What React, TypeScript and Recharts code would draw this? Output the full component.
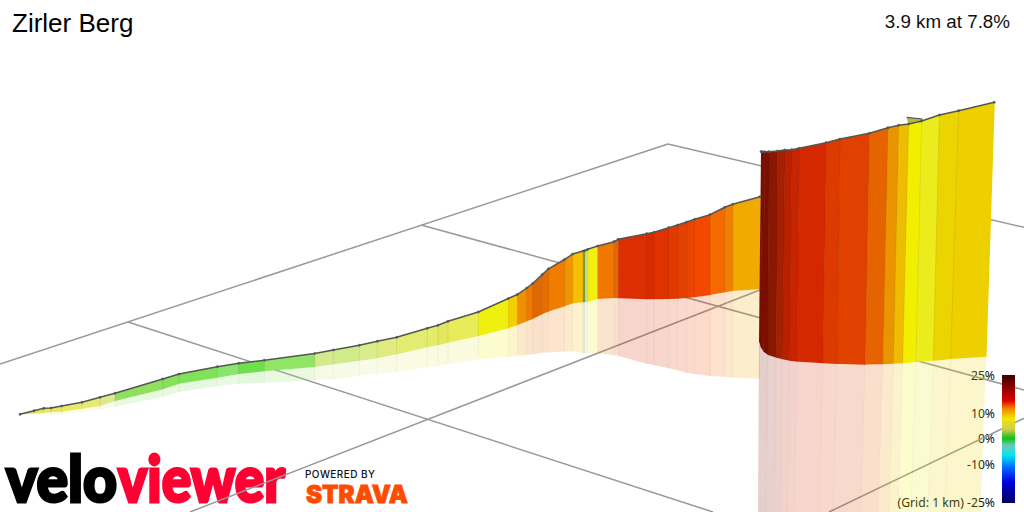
import { Area, ComposedChart, Line, XAxis, YAxis } from 'recharts'

const W = 1024
const H = 512

// far part of the climb, one entry per station along the road
const farX = [20, 34, 43.7, 51, 61.7, 82, 100, 115, 162.7, 179, 217.3, 238.7, 264.3, 314.7, 333.3, 359.3, 377.3, 396.7, 427.3, 438, 448, 478.3, 508.3, 517.3, 526.7, 532.7, 542.3, 548.5, 564.5, 572.7, 583, 585, 587.7, 597.7, 614, 618.3, 646.7, 654, 668.7, 677.7, 686.7, 694.7, 710, 724.7, 732.7, 760]
const farTop = [414.3, 410.7, 408.3, 408, 406, 402.3, 397.3, 393.3, 379, 374, 366.7, 363.3, 360.3, 353.5, 350, 345.3, 341.3, 337.3, 328.3, 325.3, 321.3, 312, 298.5, 294.5, 288, 283.5, 274.5, 268.8, 259.5, 254, 251, 250.5, 249.3, 246, 241.7, 239.3, 233.7, 232.3, 227.7, 225, 222, 219.3, 214.7, 207.3, 204.3, 196.7]
const farBase = [414.3, 413.5, 412.7, 412.3, 411.7, 408.7, 406, 401, 389.3, 383.7, 377.7, 374, 371.3, 367, 364.3, 360.7, 358.3, 354.3, 347.3, 345.3, 342.7, 336, 328.2, 325, 321.3, 319, 314, 311.5, 306.3, 303.3, 302.3, 302.3, 301.7, 299, 298, 298.3, 299.3, 299.3, 299, 298.7, 298, 297.3, 295, 292.3, 291, 289]
const farShadow = [414.3, 414.3, 414.3, 414.3, 414.3, 411.7, 409.3, 406.7, 397, 392, 386.3, 383.7, 382.7, 380, 379.3, 375.7, 374, 371.7, 367.3, 366, 364, 359.3, 357, 355.5, 354.9, 354.2, 352.8, 352.4, 351.6, 351.3, 353.3, 353.3, 353.3, 353, 355.3, 355.7, 363.7, 365, 368.3, 370.3, 372.7, 374, 376, 376.7, 377.7, 378.7]
const farColors = ['#e4dc58', '#e6e45c', '#e6e660', '#e8e860', '#e8ea68', '#e6ea70', '#dcea8c', '#90e060', '#86e258', '#80e258', '#8ae470', '#6ee04c', '#90e664', '#d4ea8c', '#cfec88', '#daec8c', '#e0ec80', '#e2ec70', '#e4ec68', '#e4e860', '#e8ec58', '#f0f010', '#f4d000', '#f09000', '#ee7a00', '#e06800', '#e86e00', '#f07c00', '#f09400', '#f4c000', '#7da03c', '#cfdc90', '#f2f010', '#f07800', '#e86800', '#dc2e00', '#d82c00', '#e03200', '#e03a00', '#e44000', '#ea4400', '#f44800', '#f46a00', '#f08000', '#f0aa00']

// near part, the wall leans a little so top and base have their own x
const nearTopX = [761, 762, 764.5, 768.7, 777.3, 784.7, 791.7, 799, 826, 840, 869.3, 888, 898.7, 908.7, 921.7, 939.3, 958.7, 994.3]
const nearTopY = [151.7, 151.7, 151.7, 151.7, 151, 150, 149.7, 148.3, 142.7, 139, 133.3, 127.7, 125.3, 124, 121, 115, 110.7, 102.3]
const nearBaseX = [759, 760.5, 763.3, 767.7, 776, 782.3, 789.3, 796.7, 822.7, 836.7, 865, 882.7, 893.3, 902.7, 916, 933.3, 950.7, 986]
const nearBaseY = [341.7, 347, 351.7, 355, 357.7, 359.3, 360.7, 361.7, 363.3, 364, 364.7, 364.3, 363.7, 363.3, 362, 360.7, 359, 356.7]
const nearShadowX = [758, 759, 762, 766, 774.5, 780.5, 787, 794, 819.5, 833, 861, 878, 889, 898, 911, 928, 945, 980.5]
const nearColors = ['#7a0f00', '#7a0f00', '#7a0f00', '#881800', '#a52000', '#b82000', '#c82400', '#d62800', '#dd3a00', '#e04000', '#e66400', '#ea9400', '#eebc00', '#f2ee00', '#ecec1c', '#ecd400', '#eed000']

// small switchback sticking out of the top edge
const kinkX = [906.7, 922.3, 920, 908.3]
const kinkY = [117.3, 119, 122.5, 125]

// 1 km ground grid: x0, y0, x1, y1
const gridLines = [
  [0, 364, 668, 144],
  [668, 144, 1024, 227.3],
  [421, 225, 1024, 390],
  [128, 322, 713, 512],
  [190, 512, 960, 212],
  [829, 512, 1024, 418.3],
]

const gradeOffsets = [0, 0.2, 0.26, 0.34, 0.425, 0.495, 0.55, 0.625, 0.73, 0.835, 1]
const gradeColors = ['#3c0000', '#e00000', '#f08000', '#f0e800', '#d0cc50', '#10c018', '#70c8b8', '#00e8f0', '#0060ff', '#0000e0', '#000060']
const gradeLabels = ['25%', '10%', '0%', '-10%', '(Grid: 1 km) -25%']
const gradeLabelY = [379.5, 418, 443, 468.7, 506.7]

type Pt = [number, number]

// turns a polygon into x / [upper, lower] rows an Area can draw
function polyRows(pts: Pt[]) {
  const xs = [...new Set(pts.map((p) => p[0]))].sort((a, b) => a - b)
  return xs.map((x) => {
    const ys: number[] = []
    pts.forEach((a, i) => {
      const b = pts[(i + 1) % pts.length]
      if (a[0] === b[0]) {
        if (x === a[0]) ys.push(a[1], b[1])
      } else if (x >= Math.min(a[0], b[0]) && x <= Math.max(a[0], b[0])) {
        ys.push(a[1] + ((x - a[0]) / (b[0] - a[0])) * (b[1] - a[1]))
      }
    })
    return { x, band: [Math.min(...ys), Math.max(...ys)] }
  })
}

const Poly = (key: string, pts: Pt[], fill: string, opacity = 1) => (
  <Area
    key={key}
    data={polyRows(pts)}
    dataKey="band"
    type="linear"
    fill={fill}
    fillOpacity={opacity}
    stroke="none"
    dot={false}
    activeDot={false}
    isAnimationActive={false}
  />
)

const Seg = (key: string, a: Pt, b: Pt, stroke: string, width = 1, z = 400) => (
  <Line
    key={key}
    data={[{ x: a[0], y: a[1] }, { x: b[0], y: b[1] }]}
    dataKey="y"
    type="linear"
    stroke={stroke}
    strokeWidth={width}
    dot={false}
    activeDot={false}
    isAnimationActive={false}
    zIndex={z}
  />
)

export default function App() {
  const farTopRows = farX.map((x, i) => ({ x, y: farTop[i] }))
  const nearTopRows = nearTopX.map((x, i) => ({ x, y: nearTopY[i] }))
  const sans = 'Liberation Sans, Arial, sans-serif'

  return (
    <div style={{ position: 'absolute', left: 0, top: 0, width: W, height: H, background: '#fff' }}>
      <ComposedChart width={W} height={H} data={farTopRows} margin={{ top: 0, right: 0, bottom: 0, left: 0 }}>
        <defs>
          <linearGradient id="grade" x1="0" y1="0" x2="0" y2="1">
            {gradeOffsets.map((o, i) => (
              <stop key={o} offset={o} stopColor={gradeColors[i]} />
            ))}
          </linearGradient>
        </defs>
        <XAxis dataKey="x" type="number" domain={[0, W]} hide />
        <YAxis type="number" domain={[0, H]} reversed hide />

        {gridLines.map((g, i) => Seg(`grid${i}`, [g[0], g[1]], [g[2], g[3]], '#999', 1.5, 50))}

        {farColors.map((c, i) =>
          Poly(`fs${i}`, [[farX[i], farBase[i]], [farX[i + 1], farBase[i + 1]], [farX[i + 1], farShadow[i + 1]], [farX[i], farShadow[i]]], c, 0.2),
        )}
        {farColors.map((c, i) =>
          Poly(`fw${i}`, [[farX[i], farTop[i]], [farX[i + 1] + 0.5, farTop[i + 1]], [farX[i + 1] + 0.5, farBase[i + 1]], [farX[i], farBase[i]]], c),
        )}
        {farX.slice(1, -1).map((x, i) => Seg(`fl${i}`, [x, farTop[i + 1]], [x, farBase[i + 1]], 'rgba(0,0,0,0.08)'))}
        {farX.slice(1, -1).map((x, i) => Seg(`fm${i}`, [x, farBase[i + 1]], [x, farShadow[i + 1]], 'rgba(0,0,0,0.04)'))}
        <Line
          data={farTopRows}
          dataKey="y"
          type="linear"
          stroke="#555"
          strokeWidth={1.5}
          dot={{ r: 1.1, fill: '#555', stroke: '#555', strokeWidth: 0.5 }}
          activeDot={false}
          isAnimationActive={false}
        />

        {nearColors.map((c, i) =>
          Poly(`ns${i}`, [[nearBaseX[i], nearBaseY[i]], [nearBaseX[i + 1], nearBaseY[i + 1]], [nearShadowX[i + 1], H], [nearShadowX[i], H]], c, 0.2),
        )}
        {Poly('kink', kinkX.map((x, i) => [x, kinkY[i]] as Pt), '#b8b848')}
        {nearColors.map((c, i) =>
          Poly(`nw${i}`, [[nearTopX[i], nearTopY[i]], [nearTopX[i + 1] + 0.5, nearTopY[i + 1]], [nearBaseX[i + 1] + 0.5, nearBaseY[i + 1]], [nearBaseX[i], nearBaseY[i]]], c),
        )}
        {nearTopX.slice(3, -1).map((x, i) => Seg(`nl${i}`, [x, nearTopY[i + 3]], [nearBaseX[i + 3], nearBaseY[i + 3]], 'rgba(0,0,0,0.08)'))}
        {nearBaseX.slice(3, -1).map((x, i) => Seg(`nm${i}`, [x, nearBaseY[i + 3]], [nearShadowX[i + 3], H], 'rgba(0,0,0,0.03)'))}
        {Seg('kinkTop', [kinkX[0], kinkY[0]], [kinkX[1], kinkY[1]], '#555', 1.2)}
        {Seg('kinkBack', [kinkX[1], kinkY[1]], [kinkX[2], kinkY[2]], '#555', 1)}
        <Line
          data={nearTopRows}
          dataKey="y"
          type="linear"
          stroke="#555"
          strokeWidth={1.5}
          dot={{ r: 1.1, fill: '#555', stroke: '#555', strokeWidth: 0.5 }}
          activeDot={false}
          isAnimationActive={false}
        />

        <Area
          data={[{ x: 1002, band: [375, 503] }, { x: 1015, band: [375, 503] }]}
          dataKey="band"
          type="linear"
          fill="url(#grade)"
          fillOpacity={1}
          stroke="none"
          dot={false}
          activeDot={false}
          isAnimationActive={false}
        />

        <text x={12} y={32} fontFamily={sans} fontSize={26} fill="#000">Zirler Berg</text>
        <text x={1010} y={28} textAnchor="end" fontFamily={sans} fontSize={18.8} fill="#111">3.9 km at 7.8%</text>
        {gradeLabels.map((t, i) => (
          <text key={t} x={995} y={gradeLabelY[i]} textAnchor="end" fontFamily="Noto Sans, sans-serif" fontSize={12.2} fill="#111">{t}</text>
        ))}

        <text x={6} y={502} fontFamily="Lato, sans-serif" fontWeight={900} fontSize={64} textLength={111} lengthAdjust="spacingAndGlyphs" fill="#000" stroke="#000" strokeWidth={3}>velo</text>
        <text x={118} y={502} fontFamily="Lato, sans-serif" fontWeight={900} fontSize={64} textLength={167} lengthAdjust="spacingAndGlyphs" fill="#ff0033" stroke="#ff0033" strokeWidth={3}>viewer</text>
        <text x={305} y={478} fontFamily="Inter, sans-serif" fontWeight={500} fontSize={10} textLength={70} fill="#111">POWERED BY</text>
        <text x={306} y={503} fontFamily="Inter, sans-serif" fontWeight={900} fontSize={24} textLength={102} lengthAdjust="spacingAndGlyphs" fill="#fc4c02" stroke="#fc4c02" strokeWidth={0.8}>STRAVA</text>
      </ComposedChart>
    </div>
  )
}
